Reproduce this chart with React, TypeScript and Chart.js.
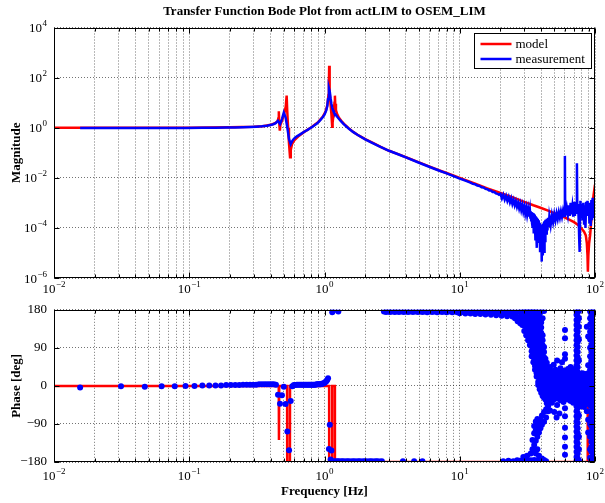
import React, { useEffect, useRef } from 'react';
import { Chart, registerables } from 'chart.js';
Chart.register(...registerables);

const FONT = "'Liberation Serif', 'Times New Roman', serif";
const TITLE = 'Transfer Function Bode Plot from actLIM to OSEM_LIM';
const MAG_LABEL = 'Magnitude';
const PHASE_LABEL = 'Phase [deg]';
const FREQ_LABEL = 'Frequency [Hz]';
const SERIES = ['model', 'measurement'];
const COLORS = ['#ff0000', '#0000ff'];

const xTickValues = [0.01,0.02,0.03,0.04,0.05,0.06,0.07,0.08,0.09,0.1,0.2,0.3,0.4,0.5,0.6,0.7,0.8,0.9,1,2,3,4,5,6,7,8,9,10,20,30,40,50,60,70,80,90,100];
const xMajorValues = [0.01, 0.1, 1, 10, 100];
const xMajorExps = ['−2', '−1', '0', '1', '2'];
const magTickValues = [1e-6, 1e-4, 1e-2, 1, 1e2, 1e4];
const magTickExps = ['−6', '−4', '−2', '0', '2', '4'];
const phaseTickValues = [-180, -90, 0, 90, 180];
const phaseTickLabels = ['−180', '−90', '0', '90', '180'];

// model magnitude
const modelFreq = [0.01,0.03,0.1,0.2,0.3,0.35,0.4,0.43,0.45,0.456,0.4595,0.4625,0.4674,0.472,0.49,0.505,0.517,0.525,0.53,0.538,0.546,0.556,0.563,0.575,0.6,0.65,0.7,0.8,0.9,0.97,1.02,1.05,1.07,1.078,1.083,1.088,1.095,1.11,1.125,1.135,1.14,1.148,1.17,1.185,1.194,1.2,1.215,1.24,1.28,1.33,1.4,1.5,1.65,1.8,2.0,2.3,2.6,3.0,3.5,4.0,5.0,6.0,7.0,8.0,10,13,16,20,25,30,35,40,45,50,55,60,65,70,75,80,83,85.5,87,88,88.6,89.3,90.5,92,94,96,97.5,98.7,99.4,100];
const modelMag = [1.0,1.0,1.0,1.04,1.1,1.15,1.3,1.5,1.8,2.4,4.5,1.6,0.76,1.3,2.2,3.8,7,19,5,1.0,0.25,0.066,0.13,0.22,0.32,0.48,0.65,1.05,1.7,2.7,4.5,8,20,60,295,60,25,8,3.5,1.6,1.1,1.6,4,10,19,9,5,3.5,2.5,1.9,1.4,0.98,0.65,0.48,0.35,0.24,0.17,0.12,0.088,0.066,0.041,0.028,0.02,0.0155,0.0099,0.0058,0.0038,0.0025,0.0016,0.0011,0.0008,0.00062,0.00049,0.00039,0.00032,0.00026,0.00021,0.00017,0.00013,0.00009,0.00007,0.00005,0.000025,0.000008,0.0000018,0.000008,0.000025,0.00005,0.0002,0.0008,0.002,0.0032,0.0028,0.0024];

// model phase
const modelPhaseFreq = [0.01,0.459,0.4605,0.4625,0.529,0.53,0.555,0.556,1.082,1.083,1.139,1.14,1.193,1.194,87.9,88.1,88.6,93,98,99.2,99.4,100];
const modelPhase = [0,0,-128,0,0,-180,-180,0,0,-180,-180,0,0,-180,-180,-55,-20,-8,-30,-92,-180,-180];

// measured magnitude
const measFreq = [0.0156,0.0313,0.0469,0.0625,0.0938,0.125,0.1563,0.1875,0.2188,0.25,0.2813,0.3125,0.3438,0.375,0.4063,0.4219,0.4375,0.4531,0.4688,0.4844,0.5,0.5156,0.5313,0.5469,0.5625,0.5781,0.5938,0.625,0.6563,0.6875,0.7188,0.75,0.7813,0.8125,0.8438,0.875,0.9063,0.9375,0.9688,1.0,1.0313,1.0469,1.0625,1.0781,1.0938,1.1094,1.125,1.1406,1.1563,1.1719,1.2031,1.25,1.3125,1.375,1.5,1.625,1.75,2.0,2.25,2.5,3.0,3.5,4.0,5.0,6.0,7.0,8.0,9.0,10,11,12,12.5,13,13.5,14,14.5,15,15.5,16,16.5,17,17.5,18,18.5,19,19.5,
  20,20.5,21,21.5,22,22.5,23,23.5,24,24.5,25,25.5,26,26.5,27,27.5,28,28.5,29,29.5,30,30.5,31,31.5,32,32.5,33,33.25,33.5,33.75,34,34.25,34.5,34.75,35,35.25,35.5,35.75,36,36.25,36.5,36.75,37,37.25,37.5,37.75,38,38.25,38.5,38.75,39,39.25,39.5,39.75,40,40.25,40.5,40.75,41,41.25,41.5,41.75,42,42.25,42.5,42.75,43,43.5,44,44.5,45,45.5,46,47,48,49,50,51,52,53,54,55,56,57,58,59,59.8,60,60.2,61,62,63,64,65,66,67,68,69,70,71,72,73,73.5,74,75,76,76.5,77,77.5,78,79,80,81,82,83,84,85,86,87,88,89,90,91,92,93,94,95,96,97,98,99,100];
const measMag = [0.98,0.98,0.98,0.98,0.98,0.99,1.0,1.01,1.03,1.05,1.07,1.1,1.14,1.2,1.3,1.4,1.55,1.9,1.4,2.2,4.0,2.6,1.0,0.35,0.22,0.3,0.36,0.45,0.53,0.62,0.72,0.82,0.95,1.08,1.25,1.45,1.7,2.1,2.6,3.3,5.0,7,14,38,28,15,9,6.2,5.0,4.2,3.4,2.6,1.9,1.45,0.95,0.68,0.52,0.34,0.25,0.19,0.12,0.087,0.065,0.04,0.027,0.0195,0.015,0.0117,0.0093,0.0077,0.0064,0.0057,0.0055,0.0049,0.0047,0.0042,0.0041,0.0036,0.0035,0.0031,0.0031,0.0027,0.0027,0.0024,0.0023,0.0021,
  2.3e-3,1.5e-3,2.1e-3,1.35e-3,1.9e-3,1.2e-3,1.7e-3,1.05e-3,1.5e-3,9.0e-4,1.3e-3,8.0e-4,1.15e-3,7.0e-4,1.0e-3,6.0e-4,9.0e-4,5.2e-4,8.0e-4,4.5e-4,7.0e-4,3.8e-4,6.2e-4,3.3e-4,5.6e-4,2.8e-4,5.0e-4,2.6e-4,4.6e-4,2.0e-4,4.3e-4,1.5e-4,4.0e-4,1.0e-4,3.8e-4,6e-5,3.4e-4,1.1e-4,3.2e-4,3.5e-5,2.9e-4,8e-5,2.6e-4,1.6e-5,2.3e-4,5e-5,2.0e-4,2.5e-5,1.8e-4,7e-5,1.6e-4,1.2e-5,1.4e-4,3.5e-5,1.2e-4,4.5e-6,1.3e-4,2.0e-5,1.4e-4,8e-6,1.5e-4,4e-5,1.7e-4,1.0e-5,1.9e-4,3e-5,2.1e-4,6e-5,2.3e-4,8e-5,2.5e-4,1.1e-4,2.8e-4,1.3e-4,3.2e-4,1.7e-4,3.5e-4,2.0e-4,3.8e-4,2.3e-4,4.2e-4,2.6e-4,4.5e-4,2.8e-4,4.8e-4,3.0e-4,5.0e-4,7.5e-2,5.0e-4,3.2e-4,6.0e-4,3.4e-4,8.0e-4,3.0e-4,1.0e-3,3.5e-4,7.0e-4,2.8e-4,1.1e-3,3.0e-4,8.0e-4,4.0e-4,3.8e-2,5.0e-4,9.0e-4,1.2e-4,3.0e-5,1.1e-5,4.0e-4,1.2e-3,3.0e-4,9.0e-4,2.0e-4,1.0e-3,1.5e-4,8.0e-4,1.0e-4,1.1e-3,3.0e-4,1.2e-3,5.0e-4,1.0e-3,1.5e-4,7.0e-4,1.2e-4,1.3e-3,2.0e-4,1.6e-3,3.0e-4,8.0e-4,2.5e-4,6.0e-4];

// measured phase, low frequencies (one point per bin)
const measPhaseLowFreq = [0.0156,0.0313,0.0469,0.0625,0.0781,0.0938,0.1094,0.125,0.1406,0.1563,0.1719,0.1875,0.2031,0.2188,0.2344,0.25,0.2656,0.2813,0.2969,0.3125,0.3281,0.3438,0.3594,0.375,0.3906,0.4063,0.4219,0.4375,0.4531,0.4688,0.4844,0.5,0.5156,0.5313,0.5469,0.5625,0.5781,0.5938,0.6094,0.625,0.6406,0.6563,0.6719,0.6875,0.7031,0.7188,0.7344,0.75,0.7656,0.7813,0.7969,0.8125,0.8281,0.8438,0.8594,0.875,0.8906,0.9063,0.9219,0.9375,0.9531,0.9688,0.9844,1.0,1.0156,1.0313,1.0469,1.0625,1.0781,1.0938,1.1094,1.125,1.1406,1.1563];
const measPhaseLow = [-4,-1,-2,-1,-1,0,0,1,1,1,1,2,2,2,2,3,3,3,3,3,4,4,4,4,4,4,4,3,-21,-42,-22,-2,-43,-108,-152,-36,-1,2,2,3,3,3,3,3,3,3,3,3,3,3,3,3,3,3,3,4,4,4,4,4,5,5,6,7,9,11,14,18,-149,-92,-174,-153,174,177];

// measured phase, wrapped region (rows: frequency, phases...)
const phaseWrapRows = [
  [1.172,-178],[1.203,-179],[1.234,-178],[1.266,-178,176],[1.297,-179],[1.336,-178],[1.375,-178],[1.414,-179],[1.461,-178],[1.508,-178],[1.555,-179],[1.609,-178],[1.664,-178],[1.719,-179],[1.773,-178],[1.828,-178],[1.891,-179],[1.953,-178],[2.016,-178],[2.078,-179],[2.156,-178],[2.234,-178],[2.313,-179],[2.391,-178],[2.469,-178],[2.563,-179],[2.656,-178],
  [2.75,176],[2.85,175],[2.95,176],[3.05,175],[3.15,176],[3.3,175],[3.4,176],[3.55,175],[3.7,176],[3.85,175],[4.0,176],[4.15,175],[4.3,176],[4.5,175],[4.7,176],[4.9,175],[5.1,176],[5.3,175],[5.5,176],[5.75,174],[6.0,176],[6.25,175],[6.5,176],[6.8,174],[7.1,176],[7.4,175],[7.7,176],[8.0,174],[8.4,176],[8.8,174],[9.2,176],[9.6,174],
  [10,176,172],[10.5,175],[11,176,171],[11.5,174],[12,176,171],[12.5,174],[13,177,170],[13.6,174],[14.2,176,170],[14.8,174],[15.5,177,169],[16.2,173],[17,176,168],[17.8,173],[18.6,177,167],[19.5,172],[20.4,176,166],[21.4,172],[22.4,177,165],[23.4,171],[24.5,177,164],[25.6,170,160],[26.8,176,163,153],[28,174,160,148],
  [3.8,-178],[4.6,-178],[5.3,-178],[21,-178],[22.9,-177],[24.9,-178],[26.6,-176],[27.8,-177],
];

// measured phase, noisy high-frequency cloud (rows: frequency, phases...)
const phaseCloudRows = [
  [28.5,-178],[29.5,-176,-168],[30.5,-179],[31.5,-177,-165],[32.5,-178],[33.5,-176,-160],[34.5,-179,-150,-128],[35.5,-175,-140,-112,-95],[36.5,-178,-160,-130,-105,-84],[37.5,-176,-150,-120,-96,-78],[38.5,-179,-165,-110,-88],[39.5,-177,-100,-80],[40.5,-172,-92,-70],[42,-175,-85,-62],[43.5,-178,-75,-55],[45,-60,-48],[46.5,-58],[50,-62],[52,-75],[54.5,-65],
  [29,178,168,156,144],
  [30,177,166,154,142,130],
  [31,178,168,156,144,132,120],
  [32,177,165,153,141,129,117,108],
  [33,178,168,156,144,132,120,108,97],
  [34,177,166,154,142,130,118,106,94,82,70],
  [35,176,164,152,140,128,116,104,92,80,68,56],
  [36,177,167,155,143,131,119,107,95,83,71,59,47,38],
  [37,174,162,150,138,126,114,102,90,78,66,54,42,30,22],
  [38,177,165,153,141,129,117,105,93,81,69,57,45,33,21,9,2],
  [39,170,158,146,134,122,110,98,86,74,62,50,38,26,14,2,-8],
  [40,176,150,138,126,114,102,90,78,66,54,42,30,18,6,-6,-16],
  [41,160,120,108,96,84,72,60,48,36,24,12,0,-12,-24],
  [42,177,92,80,68,56,44,32,20,8,-4,-16,-28],
  [43,64,52,40,28,16,4,-8,-20,-32],
  [44,55,43,31,19,7,-5,-17,-29,-41],
  [45,40,28,16,4,-8,-20,-32],
  [46.5,45,30,18,6,-6,-18,-30],
  [48,35,22,10,-2,-14,-26,-40],
  [49.5,50,28,16,4,-8,-20,-32],
  [51,38,25,12,0,-12,-24],
  [52.5,60,30,18,6,-6,-18,-30,-45],
  [54,32,20,8,-4,-16,-28],
  [55.5,42,26,14,2,-10,-22,-34],
  [57,56,30,18,6,-6,-18,-30],
  [58.5,36,24,12,0,-12,-24,-38],
  [60,132,113,75,64,30,18,6,-6,-18,-30,-53,-72,-99,-122,-144,-163],
  [61.5,34,22,10,-2,-14,-26],
  [63,40,28,16,4,-8,-20,-32],
  [64.5,30,18,6,-6,-18,-30],
  [66,45,26,14,2,-10,-22,-36],
  [67.5,32,20,8,-4,-16,-28],
  [69,38,24,12,0,-12,-24,-40],
  [70.5,30,18,6,-6,-18,-30],
  [72,42,26,14,2,-10,-22,-34],
  [73,177,168,156,144,132,120,108,96,84,72,60,48,36,24,12,0,-12,-24,-36,-48,-60,-72,-84,-96,-108,-120,-132,-144,-156,-168,-177],
  [74.5,176,164,152,140,128,116,104,92,80,68,56,44,32,20,8,-4,-16,-28,-40,-52,-64,-76,-88,-100,-112,-124,-136,-148,-160,-172],
  [76,177,160,140,110,60,30,10,-10,-30,-70,-120,-150,-176],
  [79,24,12,0,-12,-24,-36,-48],
  [81,30,18,6,-6,-18,-30,-42],
  [83,22,10,-2,-14,-26,-38,-50],
  [85,28,16,4,-8,-20,-32,-44],
  [87,140,26,14,2,-10,-22,-34,-60],
  [89,117,49,30,18,6,-6,-18,-30,-80,-110],
  [92,176,160,145,128,110,90,70,50,38,26,14,2,-10,-22,-34,-46,-60,-90,-120,-150,-170],
  [94,177,168,156,144,132,120,108,96,84,72,60,48,36,24,12,0,-12,-24,-36,-48,-60,-72,-84,-96,-108,-120,-132,-144,-156,-168,-177],
  [96.5,176,166,154,142,130,118,106,94,82,70,58,46,34,22,10,-2,-14,-26,-38,-50,-62,-74,-86,-98,-110,-122,-134,-146,-158,-170],
  [99,176,164,152,140,128,116,104,92,80,68,56,44,32,20,8,-4,-16,-28,-40,-52,-64,-76,-88,-100,-112,-124,-136,-148,-160,-172],
];

const pts = (xs: number[], ys: number[]) => xs.map((x, i) => ({ x, y: ys[i] }));
const rowPts = (rows: number[][]) => rows.flatMap(([f, ...ps]) => ps.map((p) => ({ x: f, y: p })));

// draws "10" with a raised exponent
function drawPow(ctx: CanvasRenderingContext2D, exp: string, x: number, y: number, align: 'center' | 'right') {
  ctx.font = `13px ${FONT}`;
  const bw = ctx.measureText('10').width;
  ctx.font = `9px ${FONT}`;
  const ew = ctx.measureText(exp).width;
  const total = bw + ew + 0.5;
  const left = align === 'center' ? x - total / 2 : x - total;
  ctx.textAlign = 'left';
  ctx.textBaseline = 'alphabetic';
  ctx.fillStyle = '#000';
  ctx.font = `13px ${FONT}`;
  ctx.fillText('10', left, y);
  ctx.font = `9px ${FONT}`;
  ctx.fillText(exp, left + bw + 0.5, y - 6);
}

const powLabelsPlugin = {
  id: 'powLabels',
  afterDraw(chart: any, _args: any, opts: any) {
    const { ctx, chartArea: a, scales } = chart;
    ctx.save();
    xMajorValues.forEach((v, i) => {
      drawPow(ctx, xMajorExps[i], scales.x.getPixelForValue(v), a.bottom + opts.xOffset, 'center');
    });
    if (opts.yLog) {
      magTickValues.forEach((v, i) => {
        drawPow(ctx, magTickExps[i], a.left - 7, scales.y.getPixelForValue(v) + 4.5, 'right');
      });
    }
    ctx.restore();
  },
};

const framePlugin = {
  id: 'frame',
  afterDatasetsDraw(chart: any) {
    const { ctx, chartArea: a, scales } = chart;
    const L = Math.round(a.left) + 0.5, R = Math.round(a.right) - 0.5;
    const T = Math.round(a.top) + 0.5, B = Math.round(a.bottom) - 0.5;
    ctx.save();
    ctx.strokeStyle = '#000';
    ctx.lineWidth = 1;
    ctx.setLineDash([]);
    ctx.beginPath();
    for (const t of scales.x.ticks) {
      const x = Math.round(scales.x.getPixelForValue(t.value)) + 0.5;
      const major = xMajorValues.some((m) => Math.abs(m - t.value) / m < 1e-6);
      const len = major ? 5 : 3;
      ctx.moveTo(x, B); ctx.lineTo(x, B - len);
      ctx.moveTo(x, T); ctx.lineTo(x, T + len);
    }
    for (const t of scales.y.ticks) {
      const y = Math.round(scales.y.getPixelForValue(t.value)) + 0.5;
      ctx.moveTo(L, y); ctx.lineTo(L + 5, y);
      ctx.moveTo(R, y); ctx.lineTo(R - 5, y);
    }
    ctx.stroke();
    ctx.strokeRect(L, T, R - L, B - T);
    ctx.restore();
  },
};

const legendPlugin = {
  id: 'boxLegend',
  afterDraw(chart: any) {
    const { ctx, chartArea: a } = chart;
    const w = 117, h = 35;
    const x0 = Math.round(a.right - 4 - w) + 0.5;
    const y0 = Math.round(a.top + 5) + 0.5;
    ctx.save();
    ctx.fillStyle = '#fff';
    ctx.fillRect(x0, y0, w, h);
    ctx.strokeStyle = '#000';
    ctx.lineWidth = 1;
    ctx.strokeRect(x0, y0, w, h);
    ctx.font = `13px ${FONT}`;
    ctx.textBaseline = 'middle';
    ctx.textAlign = 'left';
    SERIES.forEach((name, i) => {
      const ds = chart.data.datasets.find((d: any) => d.label === name);
      const y = y0 + 10.5 + i * 15;
      ctx.strokeStyle = ds ? ds.borderColor : COLORS[i];
      ctx.lineWidth = 2.5;
      ctx.beginPath();
      ctx.moveTo(x0 + 6, y);
      ctx.lineTo(x0 + 37, y);
      ctx.stroke();
      ctx.fillStyle = '#000';
      ctx.fillText(name, x0 + 41, y + 0.5);
    });
    ctx.restore();
  },
};

const gridOpts = { color: 'rgba(0,0,0,0.55)', lineWidth: 1, drawTicks: false };
const borderOpts = { display: false, dash: [1, 2] };

const xScale = (height: number, withTitle: boolean) => ({
  type: 'logarithmic',
  min: 0.01,
  max: 100,
  afterBuildTicks: (axis: any) => { axis.ticks = xTickValues.map((v) => ({ value: v })); },
  afterFit: (axis: any) => { axis.height = height; },
  ticks: { display: false, autoSkip: false, maxRotation: 0, minRotation: 0 },
  grid: gridOpts,
  border: borderOpts,
  title: withTitle
    ? { display: true, text: FREQ_LABEL, color: '#000', font: { size: 13, weight: 'bold', family: FONT }, padding: { top: 0, bottom: 4 } }
    : { display: false },
});

export default function App() {
  const magRef = useRef<HTMLCanvasElement>(null);
  const phaseRef = useRef<HTMLCanvasElement>(null);

  useEffect(() => {
    Chart.defaults.font.family = FONT;
    Chart.defaults.color = '#000';

    const mag = new Chart(magRef.current as HTMLCanvasElement, {
      type: 'scatter',
      data: {
        datasets: [
          { label: SERIES[0], data: pts(modelFreq, modelMag), showLine: true, borderColor: COLORS[0], backgroundColor: COLORS[0], borderWidth: 2.5, pointRadius: 0, order: 2 },
          { label: SERIES[1], data: pts(measFreq, measMag), showLine: true, borderColor: COLORS[1], backgroundColor: COLORS[1], borderWidth: 2.5, pointRadius: 0, order: 1 },
        ],
      },
      options: {
        animation: false,
        responsive: false,
        events: [],
        layout: { padding: { left: 0, right: 10, top: 0, bottom: 0 } },
        plugins: {
          legend: { display: false },
          tooltip: { enabled: false },
          title: { display: true, text: TITLE, fullSize: false, color: '#000', font: { size: 13, weight: 'bold', family: FONT }, padding: { top: 3.5, bottom: 8.4 } },
          powLabels: { xOffset: 15, yLog: true },
        },
        scales: {
          x: xScale(17, false),
          y: {
            type: 'logarithmic',
            min: 1e-6,
            max: 1e4,
            afterBuildTicks: (axis: any) => { axis.ticks = magTickValues.map((v) => ({ value: v })); },
            afterFit: (axis: any) => { axis.width = 54; },
            ticks: { display: false, autoSkip: false },
            grid: gridOpts,
            border: borderOpts,
            title: { display: true, text: MAG_LABEL, color: '#000', font: { size: 13, weight: 'bold', family: FONT }, padding: { top: 9, bottom: 0 } },
          },
        },
      } as any,
      plugins: [framePlugin, legendPlugin, powLabelsPlugin],
    } as any);

    const blue = [...pts(measPhaseLowFreq, measPhaseLow), ...rowPts(phaseWrapRows), ...rowPts(phaseCloudRows)];
    const phase = new Chart(phaseRef.current as HTMLCanvasElement, {
      type: 'scatter',
      data: {
        datasets: [
          { label: SERIES[0], data: pts(modelPhaseFreq, modelPhase), showLine: true, borderColor: COLORS[0], backgroundColor: COLORS[0], borderWidth: 2.5, pointRadius: 0, order: 2 },
          { label: SERIES[1], data: blue, showLine: false, borderColor: COLORS[1], backgroundColor: COLORS[1], borderWidth: 0, pointRadius: 3, order: 1 },
        ],
      },
      options: {
        animation: false,
        responsive: false,
        events: [],
        layout: { padding: { left: 0, right: 10, top: 9, bottom: 0 } },
        plugins: { legend: { display: false }, tooltip: { enabled: false }, title: { display: false }, powLabels: { xOffset: 18, yLog: false } },
        scales: {
          x: xScale(41, true),
          y: {
            type: 'linear',
            min: -180,
            max: 180,
            afterBuildTicks: (axis: any) => { axis.ticks = phaseTickValues.map((v) => ({ value: v })); },
            afterFit: (axis: any) => { axis.width = 54; },
            ticks: { callback: (v: number) => { const i = phaseTickValues.indexOf(v); return i >= 0 ? phaseTickLabels[i] : ''; }, autoSkip: false, color: '#000', font: { size: 13, family: FONT }, padding: 7 },
            grid: gridOpts,
            border: borderOpts,
            title: { display: true, text: PHASE_LABEL, color: '#000', font: { size: 13, weight: 'bold', family: FONT }, padding: { top: 9, bottom: 0 } },
          },
        },
      } as any,
      plugins: [framePlugin, powLabelsPlugin],
    } as any);

    return () => { mag.destroy(); phase.destroy(); };
  }, []);

  return (
    <div style={{ position: 'absolute', left: 0, top: 0, width: 605, height: 503, background: '#fff' }}>
      <canvas ref={magRef} width={605} height={295} style={{ position: 'absolute', left: 0, top: 0, width: 605, height: 295 }} />
      <canvas ref={phaseRef} width={605} height={208} style={{ position: 'absolute', left: 0, top: 295, width: 605, height: 208 }} />
    </div>
  );
}
